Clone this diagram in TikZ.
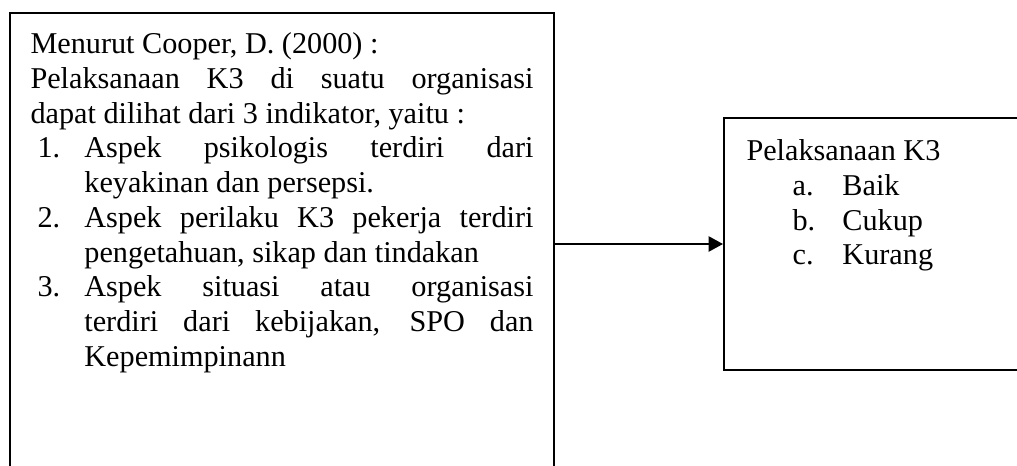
\documentclass[tikz,border=0pt]{standalone}
\usepackage{fontspec}
\setmainfont{Liberation Serif}
\usetikzlibrary{arrows.meta}
\usetikzlibrary{positioning}

% numbered and lettered lines
\newcommand{\butir}[2]{\par\noindent\hangindent=21.4pt\hangafter=1\makebox[21.4pt][l]{\hspace{2.8pt}#1}#2}
\newcommand{\huruf}[2]{\\\hspace*{18.3pt}\makebox[19.8pt][l]{#1}#2}

\begin{document}
\begin{tikzpicture}[x=0.397pt,y=-0.397pt,
	kotak/.style={draw, line width=.8pt, inner sep=0pt, anchor=north west},
	teks/.style={inner sep=0pt, anchor=north west, align=justify, font=\fontsize{12}{13.8}\selectfont}]
	% page frame
	\useasboundingbox (0,0) rectangle (1017,466);
	\clip (0,0) rectangle (1017,466);

	% draw boxes (cut off at the page edge)
	\node[kotak, minimum width=544*0.397pt, minimum height=500*0.397pt] (teori) at (9,12) {};
	\node[kotak, minimum width=330*0.397pt, minimum height=252*0.397pt] (hasil) at (723,117) {};

	% draw texts
	\node[teks, text width=503*0.397pt] (teorit) at (30,28.7) {\noindent\strut Menurut Cooper, D. (2000) :\\
		Pelaksanaan K3 di suatu organisasi\linebreak
		dapat dilihat dari 3 indikator, yaitu :
		\butir{1.}{Aspek psikologis terdiri dari\linebreak keyakinan dan persepsi.}
		\butir{2.}{Aspek perilaku K3 pekerja terdiri\linebreak pengetahuan, sikap dan tindakan}
		\butir{3.}{Aspek situasi atau organisasi\linebreak terdiri dari kebijakan, SPO dan\linebreak Kepemimpinann}\par};
	\node[teks, text width=250*0.397pt] (hasilt) at (746,135.7) {\noindent\strut Pelaksanaan K3
		\huruf{a.}{Baik}
		\huruf{b.}{Cukup}
		\huruf{c.}{Kurang}\par};

	% draw arrow
	\draw[-{Triangle[length=5.7pt,width=6pt]}, line width=.8pt] (teori.east |- hasil.west) -- (hasil.west);
\end{tikzpicture}
\end{document}
